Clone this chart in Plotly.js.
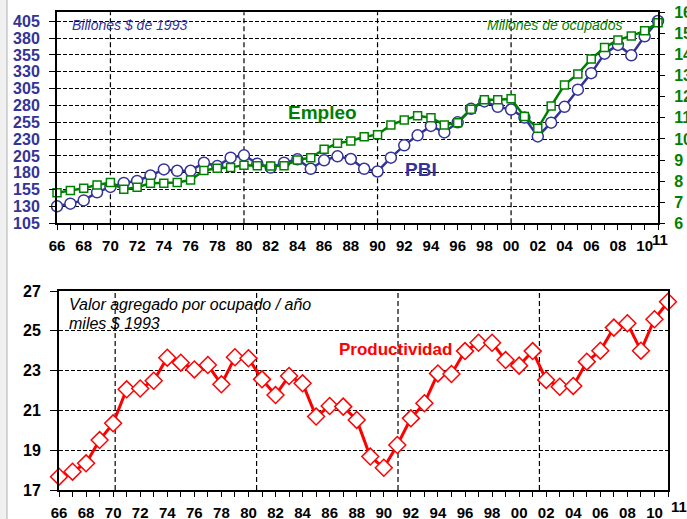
<!DOCTYPE html>
<html>
<head>
<meta charset="utf-8">
<script src="https://cdn.plot.ly/plotly-3.0.1.min.js"></script>
<style>html,body{margin:0;padding:0;background:#fff;}#chart{width:687px;height:519px;}</style>
</head>
<body>
<div id="chart"></div>
<script>
const years = [1966,1967,1968,1969,1970,1971,1972,1973,1974,1975,1976,1977,1978,1979,1980,1981,1982,1983,1984,1985,1986,1987,1988,1989,1990,1991,1992,1993,1994,1995,1996,1997,1998,1999,2000,2001,2002,2003,2004,2005,2006,2007,2008,2009,2010,2011];
const pbi = [130.2,134.2,139,151,159,165,168,176,185,183,183,195,190,202.5,206,193.6,187.7,195,200,186,198.6,204.5,200.5,186,182,202.5,220.8,235.7,249.6,240,255,275,286,278,274,262,234,254.5,278,303.5,328,357,370,354.5,382.7,405.5];
const empleo = [7.45,7.55,7.66,7.82,7.93,7.61,7.71,7.90,7.90,7.93,8.05,8.50,8.61,8.65,8.75,8.73,8.72,8.73,9.0,9.11,9.51,9.79,9.90,10.1,10.2,10.66,10.9,11.1,11.0,10.66,10.76,11.4,11.85,11.85,11.9,11.06,10.5,11.56,12.56,13.08,13.79,14.33,14.69,14.88,15.12,15.51];
const productividad = [17.67,17.92,18.34,19.51,20.35,22.06,22.1,22.49,23.65,23.4,23.06,23.28,22.31,23.67,23.62,22.56,21.77,22.73,22.36,20.69,21.22,21.19,20.52,18.68,18.12,19.26,20.6,21.36,22.86,22.83,23.98,24.4,24.4,23.53,23.25,23.98,22.53,22.19,22.23,23.45,24.0,25.16,25.38,24.0,25.58,26.46];
const xTickVals = [1966,1968,1970,1972,1974,1976,1978,1980,1982,1984,1986,1988,1990,1992,1994,1996,1998,2000,2002,2004,2006,2008,2010];
const xTickText = ["66","68","70","72","74","76","78","80","82","84","86","88","90","92","94","96","98","00","02","04","06","08","10"];
const leftTicksTop = [105,130,155,180,205,230,255,280,305,330,355,380,405];
const rightTicksTop = [6,7,8,9,10,11,12,13,14,15,16];
const ticksBottom = [17,19,21,23,25,27];
const gridYearsTop = [1970,1980,1990,2000];
const gridYearsBottom = [1970.15,1980.6,1991.05,2001.5];

const W = 687, H = 519;
const px = v => v / W;
const py = v => 1 - v / H;
const FONT = 'Arial, "Liberation Sans", sans-serif';
const BLUE = '#333399', GREEN = '#008000', RED = '#ff0000';

const xCommon = {
  range: [1966, 2011], tickmode: 'array', tickvals: xTickVals, ticktext: xTickText,
  ticks: 'outside', ticklen: 5, tickcolor: '#000', tickwidth: 1,
  minor: {tickmode: 'linear', tick0: 1966, dtick: 1, ticks: 'outside', ticklen: 5, tickcolor: '#000', tickwidth: 1},
  showline: true, linecolor: '#000', linewidth: 2, mirror: true,
  showgrid: false, zeroline: false, fixedrange: true,
  tickfont: {family: FONT, size: 15, color: '#000', weight: 'bold'},
  ticklabelstandoff: 3
};

const data = [
  {x: years, y: pbi, xaxis: 'x', yaxis: 'y', mode: 'lines+markers', cliponaxis: false,
   line: {color: BLUE, width: 2.5},
   marker: {symbol: 'circle', size: 11, color: '#fff', line: {color: BLUE, width: 1.5}}},
  {x: years, y: empleo, xaxis: 'x', yaxis: 'y2', mode: 'lines+markers', cliponaxis: false,
   line: {color: GREEN, width: 2.5},
   marker: {symbol: 'square', size: 8, color: '#fff', line: {color: GREEN, width: 1.5}}},
  {x: years, y: productividad, xaxis: 'x2', yaxis: 'y3', mode: 'lines+markers', cliponaxis: false,
   line: {color: RED, width: 3},
   marker: {symbol: 'diamond', size: 13, color: '#fff', line: {color: RED, width: 1.5}}}
];

const shapes = [
  {type: 'rect', xref: 'paper', yref: 'paper', x0: 0, x1: px(7), y0: 0, y1: 1, fillcolor: '#f0f0f0', line: {width: 0}, layer: 'below'},
  {type: 'line', xref: 'paper', yref: 'paper', x0: px(7), x1: px(7), y0: 0, y1: 1, line: {color: '#b0b0b0', width: 1}, layer: 'below'}
];
gridYearsTop.forEach(g => shapes.push({type: 'line', xref: 'x', yref: 'y domain', x0: g, x1: g, y0: 0, y1: 1, line: {color: '#000', width: 1.2, dash: '5px,3px'}, layer: 'below'}));
gridYearsBottom.forEach(g => shapes.push({type: 'line', xref: 'x2', yref: 'y3 domain', x0: g, x1: g, y0: 0, y1: 1, line: {color: '#000', width: 1.2, dash: '5px,3px'}, layer: 'below'}));

const ann = (text, x, y, opts) => Object.assign({xref: 'paper', yref: 'paper', x: px(x), y: py(y), text: text, showarrow: false, yanchor: 'middle', xanchor: 'left'}, opts);

const annotations = [
  ann('Billones $ de 1993', 70, 25, {font: {family: FONT, size: 14, color: BLUE, style: 'italic'}}),
  ann('Millones de ocupados', 624, 25, {xanchor: 'right', font: {family: FONT, size: 14, color: GREEN, style: 'italic'}}),
  ann('Empleo', 322, 113, {xanchor: 'center', font: {family: FONT, size: 19, color: GREEN, weight: 'bold'}}),
  ann('PBI', 421, 169, {xanchor: 'center', font: {family: FONT, size: 19, color: BLUE, weight: 'bold'}}),
  ann('Valor agregado por ocupado / año', 67, 304, {font: {family: FONT, size: 16, color: '#000', style: 'italic'}}),
  ann('miles $ 1993', 67, 323, {font: {family: FONT, size: 16, color: '#000', style: 'italic'}}),
  ann('Productividad', 395, 349, {xanchor: 'center', font: {family: FONT, size: 17, color: RED, weight: 'bold'}}),
  ann('11', 660, 239, {xanchor: 'center', yanchor: 'middle', font: {family: FONT, size: 15, color: '#000', weight: 'bold'}}),
  ann('11', 679, 506, {xanchor: 'center', yanchor: 'middle', font: {family: FONT, size: 15, color: '#000', weight: 'bold'}})
];

const layout = {
  width: W, height: H, margin: {l: 0, r: 0, t: 0, b: 0},
  paper_bgcolor: '#fff', plot_bgcolor: '#fff', showlegend: false,
  font: {family: FONT},
  xaxis: Object.assign({}, xCommon, {domain: [px(57), px(658)], anchor: 'y'}),
  yaxis: {domain: [py(223.3), py(12.3)], anchor: 'x', range: [105, 418.4], tickmode: 'array', tickvals: leftTicksTop,
    showgrid: true, gridcolor: '#000', gridwidth: 1, griddash: '4px,2px',
    showline: true, linecolor: '#000', linewidth: 2, ticks: 'outside', ticklen: 6, tickcolor: '#000',
    zeroline: false, fixedrange: true, ticklabelstandoff: 6,
    tickfont: {family: FONT, size: 16, color: BLUE, weight: 'bold'}},
  yaxis2: {overlaying: 'y', side: 'right', anchor: 'x', range: [6, 16], tickmode: 'array', tickvals: rightTicksTop,
    showgrid: false, showline: true, linecolor: '#000', linewidth: 2, ticks: 'outside', ticklen: 5, tickcolor: '#000',
    zeroline: false, fixedrange: true, ticklabelstandoff: 6,
    tickfont: {family: FONT, size: 16, color: GREEN, weight: 'bold'}},
  yaxis4: {overlaying: 'y', side: 'right', anchor: 'x', range: [6, 16], tickmode: 'array', tickvals: rightTicksTop,
    showgrid: false, showline: false, ticks: 'inside', ticklen: 5, tickcolor: '#000', showticklabels: false,
    zeroline: false, fixedrange: true},
  xaxis2: Object.assign({}, xCommon, {domain: [px(59), px(668)], anchor: 'y3'}),
  yaxis3: {domain: [py(490), py(291)], anchor: 'x2', range: [17, 27], tickmode: 'array', tickvals: ticksBottom,
    showgrid: true, gridcolor: '#000', gridwidth: 1, griddash: '4px,2px',
    showline: true, linecolor: '#000', linewidth: 2, mirror: true, ticks: 'outside', ticklen: 7, tickcolor: '#000',
    zeroline: false, fixedrange: true, ticklabelstandoff: 6,
    tickfont: {family: FONT, size: 16, color: '#000', weight: 'bold'}},
  shapes: shapes,
  annotations: annotations
};

Plotly.newPlot('chart', data, layout, {staticPlot: true, displayModeBar: false});
</script>
</body>
</html>
